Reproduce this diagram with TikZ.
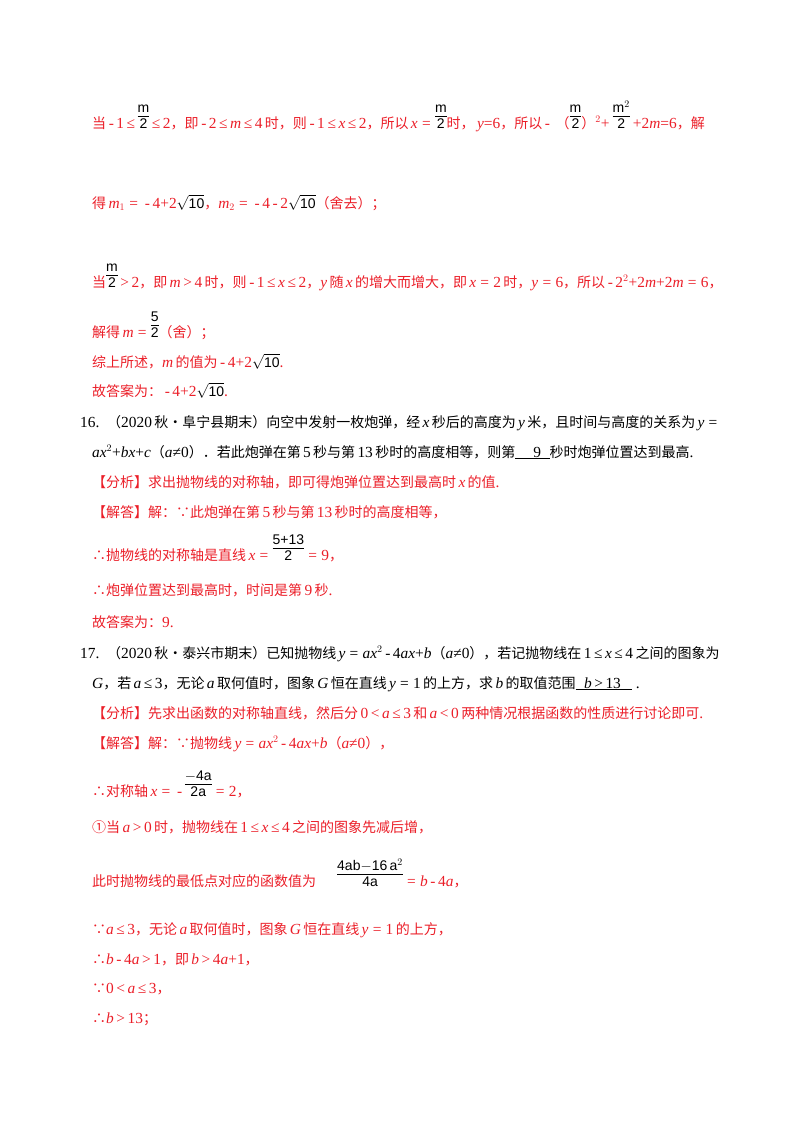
\documentclass[tikz,border=0pt]{standalone}
\usepackage{fontspec}
\setmainfont{Noto Sans CJK SC}
\newfontfamily\tms[Scale=1.1]{Liberation Serif}
\newfontfamily\ari{Liberation Sans}
\definecolor{rd}{RGB}{235,30,40}
\newcommand\iv[1]{{\tms\itshape #1}}
\newcommand\nm[1]{{\tms #1}}
\newcommand\mi{\,-\,}
\newcommand\eq{\;=\;}
\newcommand\myle{\,≤\,}
\newcommand\fr[2]{{\renewcommand\arraystretch{1.05}\color{black}\ari\begin{tabular}[b]{@{}c@{}}#1\\[-2pt]\hline #2\end{tabular}}}
\newcommand\sq[1]{{\color{black}\ari$\sqrt{\mbox{#1}}$}}
\begin{document}
\begin{tikzpicture}[x=1pt,y=-1pt,
  t/.style={anchor=base west,inner sep=0pt,font=\fontsize{14}{16}\selectfont},
  r/.style={t,text=rd},
  k/.style={t,text=black}]
\useasboundingbox (0,0) rectangle (800,1132);
\node[r] (l1) at (92,128) {当\nm{\mi1\myle}\fr{m}{2}\nm{\myle2}，即\nm{\mi2\myle}\iv{m}\nm{\myle4}\,时，则\nm{\mi1\myle}\iv{x}\nm{\myle2}，所以\,\iv{x}\nm{\eq}\fr{m}{2}时，\,\iv{y}\nm{=6}，所以\nm{\mi}\ （\fr{m}{2}）\nm{$^2$+}\ \fr{m$^2$}{2}\ \nm{+2}\iv{m}\nm{=6}，解};
\node[r] (l2) at (92,208) {得\,\iv{m}\nm{$_1$\eq\mi4+2}\sq{10}，\iv{m}\nm{$_2$\eq\mi4\mi2}\sq{10}（舍去）；};
\node[r] (l3) at (92,287) {当\fr{m}{2}\nm{\,>\,2}，即\,\iv{m}\nm{\,>\,4}\,时，则\nm{\mi1\myle}\iv{x}\nm{\myle2}，\iv{y}\,随\,\iv{x}\,的增大而增大，即\,\iv{x}\nm{\eq2}\,时，\iv{y}\nm{\eq6}，所以\nm{\mi2$^2$+2}\iv{m}\nm{+2}\iv{m}\nm{\eq6}，};
\node[r] (l4) at (92,337) {解得\,\iv{m}\nm{\eq}\fr{5}{2}（舍）；};
\node[r] (l5) at (92,367) {综上所述，\iv{m}\,的值为\nm{\mi4+2}\sq{10}.};
\node[r] (l6) at (92,396) {故答案为：\nm{\mi4+2}\sq{10}.};
\node[k] (q16) at (80,427) {\nm{16.\ \ }（\nm{2020}\,秋•阜宁县期末）向空中发射一枚炮弹，经\,\iv{x}\,秒后的高度为\,\iv{y}\,米，且时间与高度的关系为\,\iv{y}\nm{\eq}};
\node[k] (q16b) at (92,457) {\iv{ax}\nm{$^2$+}\iv{bx}\nm{+}\iv{c}（\iv{a}\nm{≠0}）．若此炮弹在第\,\nm{5}\,秒与第\,\nm{13}\,秒时的高度相等，则第\underline{\hspace{1.3em}\nm{9}\hspace{0.6em}}秒时炮弹位置达到最高\nm{.}};
\node[r] (a16) at (92,487) {【分析】求出抛物线的对称轴，即可得炮弹位置达到最高时\,\iv{x}\,的值\nm{.}};
\node[r] (s16) at (92,517) {【解答】解：∵此炮弹在第\,\nm{5}\,秒与第\,\nm{13}\,秒时的高度相等，};
\node[r] (s16b) at (92,560) {∴抛物线的对称轴是直线\,\iv{x}\nm{\eq}\fr{5+13}{2}\nm{\eq9}，};
\node[r] (s16c) at (92,595) {∴炮弹位置达到最高时，时间是第\,\nm{9}\,秒\nm{.}};
\node[r] (s16d) at (92,627) {故答案为：\nm{9.}};
\node[k] (q17) at (80,658) {\nm{17.\ \ }（\nm{2020}\,秋•泰兴市期末）已知抛物线\,\iv{y}\nm{\eq}\iv{ax}\nm{$^2$\mi4}\iv{ax}\nm{+}\iv{b}（\iv{a}\nm{≠0}），若记抛物线在\,\nm{1\myle}\iv{x}\nm{\myle4}\,之间的图象为};
\node[k] (q17b) at (92,688) {\iv{G}，若\,\iv{a}\nm{\myle3}，无论\,\iv{a}\,取何值时，图象\,\iv{G}\,恒在直线\,\iv{y}\nm{\eq1}\,的上方，求\,\iv{b}\,的取值范围\underline{\hspace{0.6em}\iv{b}\nm{\,>\,13}\hspace{0.8em}}\nm{\ .}};
\node[r] (a17) at (92,718) {【分析】先求出函数的对称轴直线，然后分\,\nm{0\,<\,}\iv{a}\nm{\myle3}\,和\,\iv{a}\nm{\,<\,0}\,两种情况根据函数的性质进行讨论即可\nm{.}};
\node[r] (s17) at (92,748) {【解答】解：∵抛物线\,\iv{y}\nm{\eq}\iv{ax}\nm{$^2$\mi4}\iv{ax}\nm{+}\iv{b}（\iv{a}\nm{≠0}），};
\node[r] (s17b) at (92,796) {∴对称轴\,\iv{x}\nm{\eq\mi}\fr{$-$4a}{2a}\nm{\eq2}，};
\node[r] (s17c) at (92,832) {①当\,\iv{a}\nm{\,>\,0}\,时，抛物线在\,\nm{1\myle}\iv{x}\nm{\myle4}\,之间的图象先减后增，};
\node[r] (s17d) at (92,886) {此时抛物线的最低点对应的函数值为\hspace{1.5em}\fr{4ab$-$16\,a$^2$}{4a}\nm{\eq}\iv{b}\nm{\mi4}\iv{a}，};
\node[r] (s17e) at (92,934) {∵\iv{a}\nm{\myle3}，无论\,\iv{a}\,取何值时，图象\,\iv{G}\,恒在直线\,\iv{y}\nm{\eq1}\,的上方，};
\node[r] (s17f) at (92,964) {∴\iv{b}\nm{\mi4}\iv{a}\nm{\,>\,1}，即\,\iv{b}\nm{\,>\,4}\iv{a}\nm{+1}，};
\node[r] (s17g) at (92,993) {∵\nm{0\,<\,}\iv{a}\nm{\myle3}，};
\node[r] (s17h) at (92,1023) {∴\iv{b}\nm{\,>\,13}；};
\end{tikzpicture}
\end{document}
